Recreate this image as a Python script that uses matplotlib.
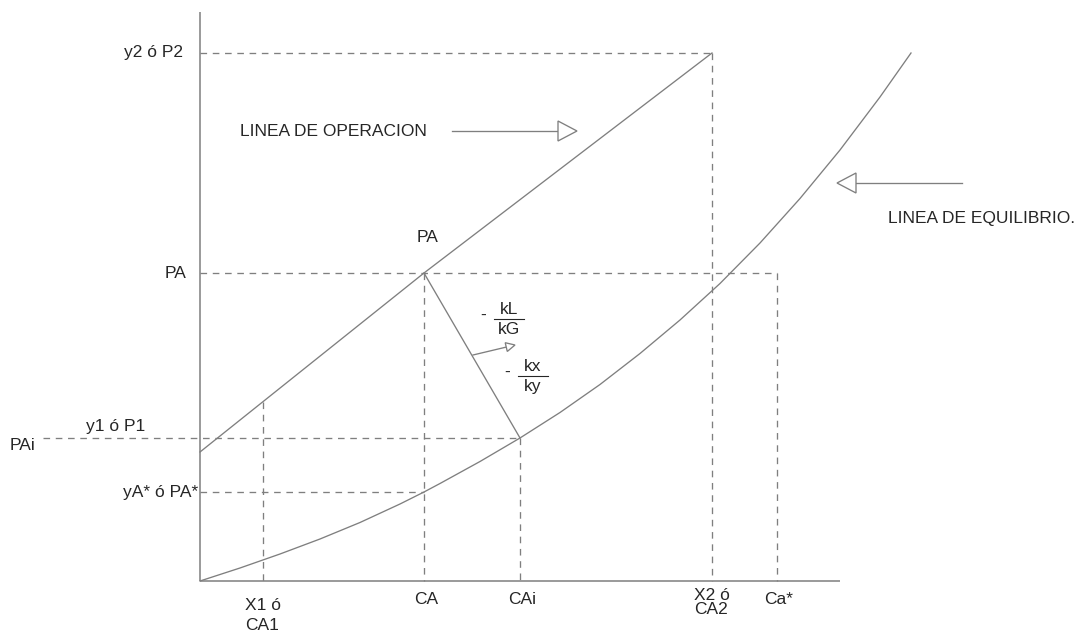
import matplotlib
matplotlib.use("Agg")
import matplotlib.pyplot as plt
from matplotlib.patches import Polygon
import numpy as np

plt.rcParams['font.family'] = ['Liberation Sans', 'DejaVu Sans']

# Concentration (x) and partial pressure (y) levels of the absorption diagram
CA1, CA, CAi, CA2, CA_star = 6.3, 22.4, 32.0, 51.2, 57.7
P2, PA, PAi, PA_star = 52.8, 30.8, 14.3, 8.9

# Operating line
op_x = [0.0, CA, CA2]
op_y = [12.9, PA, P2]

# Equilibrium curve
eq_x = [0.0, 4.0, 8.0, 12.0, 16.0, 20.0, 22.4, 24.0, 28.0, 32.0, 36.0, 40.0, 44.0,
        48.0, 52.0, 56.0, 60.0, 64.0, 68.0, 71.1]
eq_y = [0.0, 1.3, 2.7, 4.2, 5.85, 7.7, 8.9, 9.75, 11.95, 14.3, 16.85, 19.65, 22.75,
        26.1, 29.75, 33.8, 38.25, 43.1, 48.4, 52.8]

x_labels = [("X1 ó", "CA1"), ("CA",), ("CAi",), ("X2 ó", "CA2"), ("Ca*",)]
x_label_pos = [CA1, CA, CAi, CA2, CA_star]

LINE = '#7f7f7f'
TXT = '#262626'
FS = 12.5
DASH = (0, (5, 4.3))
LW = 0.95

fig = plt.figure(figsize=(10.81, 6.35), dpi=100)
ax = fig.add_axes([0, 0, 1, 1])
ax.set_xlim(-20.0, 88.1)
ax.set_ylim(-5.4, 58.1)
ax.axis('off')

# Axes of the diagram
ax.plot([0, 0], [0, 56.9], color=LINE, lw=1.1, solid_capstyle='butt')
ax.plot([0, 64.0], [0, 0], color=LINE, lw=1.1, solid_capstyle='butt')

# Curves
ax.plot(op_x, op_y, color=LINE, lw=LW)
ax.plot(eq_x, eq_y, color=LINE, lw=LW)

# Tie line between bulk and interface
ax.plot([CA, CAi], [PA, PAi], color=LINE, lw=LW)

# Projection lines
op_at_ca1 = np.interp(CA1, op_x, op_y)
dash_kw = dict(color=LINE, lw=LW, linestyle=DASH)
ax.plot([0, CA2], [P2, P2], **dash_kw)
ax.plot([CA2, CA2], [P2, 0], **dash_kw)
ax.plot([0, CA_star], [PA, PA], **dash_kw)
ax.plot([CA, CA], [PA, 0], **dash_kw)
ax.plot([CA_star, CA_star], [PA, 0], **dash_kw)
ax.plot([-15.7, CAi], [PAi, PAi], **dash_kw)
ax.plot([CAi, CAi], [PAi, 0], **dash_kw)
ax.plot([0, CA], [PA_star, PA_star], **dash_kw)
ax.plot([CA1, CA1], [op_at_ca1, 0], **dash_kw)


def open_arrow(x0, y0, x1, y1, head_len, head_half):
    """Shaft from (x0, y0) to the base of an open triangular head ending at (x1, y1)."""
    d = np.array([x1 - x0, y1 - y0], dtype=float)
    L = np.hypot(*d)
    u = d / L
    n = np.array([-u[1], u[0]])
    base = np.array([x1, y1]) - u * head_len
    ax.plot([x0, base[0]], [y0, base[1]], color=LINE, lw=LW)
    tri = [base + n * head_half, np.array([x1, y1]), base - n * head_half]
    ax.add_patch(Polygon(tri, closed=True, facecolor='white', edgecolor=LINE, lw=LW, zorder=3))


open_arrow(25.2, 45.0, 37.7, 45.0, 1.9, 1.0)
open_arrow(76.2, 39.8, 63.7, 39.8, 1.9, 1.0)
open_arrow(27.3, 22.6, 31.5, 23.6, 0.9, 0.45)

# Left-hand labels
t = dict(color=TXT, fontsize=FS)
ax.text(-1.7, P2, "y2 ó P2", ha='right', va='center', **t)
ax.text(-1.3, PA, "PA", ha='right', va='center', **t)
ax.text(-8.4, 15.4, "y1 ó P1", ha='center', va='center', **t)
ax.text(-19.0, 13.6, "PAi", ha='left', va='center', **t)
ax.text(-0.2, PA_star, "yA* ó PA*", ha='right', va='center', **t)
ax.text(CA + 0.4, 34.3, "PA", ha='center', va='center', **t)

# Bottom labels
for pos, lab in zip(x_label_pos, x_labels):
    if len(lab) == 1:
        ax.text(pos + 0.2, -1.8, lab[0], ha='center', va='center', **t)
for pos, (l1, l2), y1, y2 in [(CA1, x_labels[0], -2.5, -4.4), (CA2, x_labels[3], -1.5, -2.9)]:
    ax.text(pos, y1, l1, ha='center', va='center', **t)
    ax.text(pos - 0.1, y2, l2, ha='center', va='center', **t)

# Slope fractions
def fraction(xc, yc, num, den, minus_x):
    ax.text(minus_x, yc + 0.4, "-", ha='center', va='center', **t)
    ax.text(xc, yc + 0.95, num, ha='center', va='center', **t)
    ax.text(xc, yc - 1.1, den, ha='center', va='center', **t)
    ax.plot([xc - 1.5, xc + 1.5], [yc, yc], color=TXT, lw=0.8)


fraction(30.9, 26.2, "kL", "kG", 28.3)
fraction(33.3, 20.5, "kx", "ky", 30.7)

# Line names
ax.text(4.0, 45.0, "LINEA DE OPERACION", ha='left', va='center', **t)
ax.text(68.8, 36.3, "LINEA DE EQUILIBRIO.", ha='left', va='center', **t)

fig.savefig("out.png", dpi=100)
